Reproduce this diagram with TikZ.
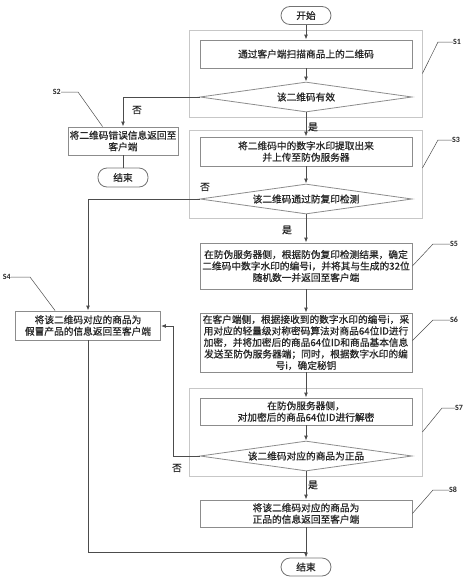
\documentclass[tikz,border=0pt]{standalone}
\usepackage{fontspec}
\setmainfont{Noto Sans CJK SC}[FakeBold=0.7]
\newfontfamily\labfont{Carlito}
\usetikzlibrary{shapes.geometric,arrows.meta,calc}
\begin{document}
\begin{tikzpicture}[x=1pt,y=-1pt,
  every node/.style={font=\fontsize{9.7}{11.5}\selectfont, text=black!85},
  procbox/.style={draw=black!45, line width=0.8pt, minimum width=212pt, inner sep=1pt, align=center},
  decision/.style={diamond, aspect=7, draw=black!45, line width=0.8pt, minimum width=212pt, minimum height=30pt, inner sep=0pt},
  term/.style={draw=black!55, line width=0.8pt, rounded corners=9pt, minimum width=50pt, minimum height=18pt, inner sep=0pt},
  groupbox/.style={draw=black!22, line width=0.8pt, minimum width=233pt, inner sep=0pt},
  flow/.style={draw=black!70, line width=1pt, -{Latex[length=5pt,width=4pt]}},
  plain/.style={draw=black!70, line width=1pt},
  leader/.style={draw=black!70, line width=0.5pt},
  steplabel/.style={font=\labfont\bfseries\fontsize{8}{9}\selectfont, anchor=west, inner sep=0pt},
  yn/.style={inner sep=0pt}
]
\useasboundingbox (0,0) rectangle (474,581);

% group boxes
\node[groupbox, minimum height=87pt] (g1) at (305.5,73.5) {};
\node[groupbox, minimum height=88pt] (g3) at (305.5,174) {};
\node[groupbox, minimum height=88pt] (g7) at (305.5,432) {};

% main column
\node[term] (start) at (306,15.5) {开始};
\node[procbox, minimum height=28pt] (b1) at (306,54) {通过客户端扫描商品上的二维码};
\node[decision] (d1) at (306,97) {该二维码有效};
\node[procbox, minimum height=29pt] (b3) at (306,151.5) {将二维码中的数字水印提取出来\\并上传至防伪服务器};
\node[decision] (d3) at (306,199) {该二维码通过防复印检测};
\node[procbox, minimum height=46pt] (b5) at (306,266) {在防伪服务器侧，根据防伪复印检测结果，确定\\二维码中数字水印的编号i，并将其与生成的32位\\随机数一并返回至客户端};
\node[procbox, minimum height=59pt] (b6) at (306,342.5) {在客户端侧，根据接收到的数字水印的编号i，采\\用对应的轻量级对称密码算法对商品64位ID进行\\加密，并将加密后的商品64位ID和商品基本信息\\发送至防伪服务器端；同时，根据数字水印的编\\号i，确定秘钥};
\node[procbox, minimum height=27pt] (b7) at (306,411.5) {在防伪服务器侧，\\对加密后的商品64位ID进行解密};
\node[decision] (d7) at (306,456) {该二维码对应的商品为正品};
\node[procbox, minimum height=27pt] (b8) at (306,513.5) {将该二维码对应的商品为\\正品的信息返回至客户端};
\node[term] (end) at (306,567) {结束};

% left column
\node[procbox, minimum width=110pt, minimum height=28pt] (b2) at (123,141) {将二维码错误信息返回至\\客户端};
\node[term, minimum height=19pt] (end2) at (123,177.5) {结束};
\node[procbox, minimum width=145pt, minimum height=29pt] (b4) at (88,325.5) {将该二维码对应的商品为\\假冒产品的信息返回至客户端};

% coordinates
\coordinate (c1) at (123,97);
\coordinate (c3) at (88,199);
\coordinate (c7a) at (173,456);
\coordinate (c7b) at (173,326);
\coordinate (m) at (306,552);

% connectors
\draw[flow] (start) -- (b1);
\draw[flow] (b1) -- (d1);
\draw[flow] (d1) -- (b3);
\draw[flow] (d1.west) -- (c1) -- (b2.north);
\draw[plain] (b2) -- (end2);
\draw[flow] (b3) -- (d3);
\draw[flow] (d3) -- (b5);
\draw[flow] (d3.west) -- (c3) -- (b4.north);
\draw[flow] (b5) -- (b6);
\draw[flow] (b6) -- (b7);
\draw[flow] (b7) -- (d7);
\draw[flow] (d7) -- (b8);
\draw[flow] (d7.west) -- (c7a) -- (c7b) -- (b4.east |- c7b);
\draw[flow] (b8) -- (end);
\draw[plain] (b4.south) |- (m);

% yes / no labels
\node[yn] at (313,127) {是};
\node[yn] at (137,110) {否};
\node[yn] at (287,230) {是};
\node[yn] at (205,187) {否};
\node[yn] at (313,485) {是};
\node[yn] at (177,468) {否};

% step labels with leaders
\node[steplabel] (s1) at (453,42) {S1};
\draw[leader] (g1.east) -- (438,42) -- (s1.west);
\node[steplabel] (s3) at (452,140) {S3};
\draw[leader] ($(g3.east)+(0,-6)$) -- (438,140) -- (s3.west);
\node[steplabel] (s5) at (450,244) {S5};
\draw[leader] (b5.east) -- (433,244) -- (s5.west);
\node[steplabel] (s6) at (450,320) {S6};
\draw[leader] ($(b6.east)+(0,-2)$) -- (433,320) -- (s6.west);
\node[steplabel] (s7) at (455,408) {S7};
\draw[leader] (g7.east) -- (442,408) -- (s7.west);
\node[steplabel] (s8) at (449,490) {S8};
\draw[leader] (b8.east) -- (433,490) -- (s8.west);
\node[steplabel, anchor=east] (s2) at (61,92) {S2};
\draw[leader] (s2.east) -- (78,92) -- ($(b2.north west)+(35,0)$);
\node[steplabel, anchor=east] (s4) at (11,277) {S4};
\draw[leader] (s4.east) -- (30,277) -- ($(b4.north west)+(40,0)$);
\end{tikzpicture}
\end{document}
